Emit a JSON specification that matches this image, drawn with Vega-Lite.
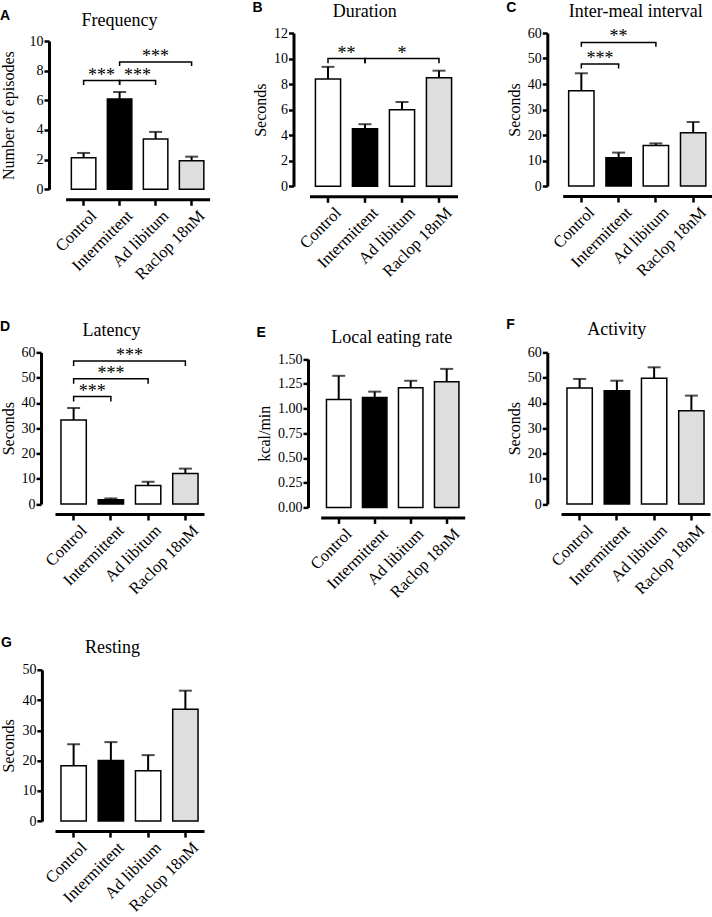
{
  "$schema": "https://vega.github.io/schema/vega-lite/v6.json",
  "description": "Seven bar panels (mean + SEM) comparing Control, Intermittent, Ad libitum and Raclop 18nM",
  "background": "white",
  "padding": {"left": 0, "top": 0, "right": 0, "bottom": 0},
  "datasets": {
    "bars": [
      {"panel": "A", "group": "Control", "mean": 2.13, "upper": 2.45},
      {"panel": "A", "group": "Intermittent", "mean": 6.09, "upper": 6.56},
      {"panel": "A", "group": "Ad libitum", "mean": 3.39, "upper": 3.87},
      {"panel": "A", "group": "Raclop 18nM", "mean": 1.93, "upper": 2.2},
      {"panel": "B", "group": "Control", "mean": 8.4, "upper": 9.35},
      {"panel": "B", "group": "Intermittent", "mean": 4.5, "upper": 4.86},
      {"panel": "B", "group": "Ad libitum", "mean": 6.0, "upper": 6.6},
      {"panel": "B", "group": "Raclop 18nM", "mean": 8.5, "upper": 9.05},
      {"panel": "C", "group": "Control", "mean": 37.4, "upper": 44.2},
      {"panel": "C", "group": "Intermittent", "mean": 11.1, "upper": 13.1},
      {"panel": "C", "group": "Ad libitum", "mean": 15.9, "upper": 16.7},
      {"panel": "C", "group": "Raclop 18nM", "mean": 20.9, "upper": 25.1},
      {"panel": "D", "group": "Control", "mean": 33.2, "upper": 38.0},
      {"panel": "D", "group": "Intermittent", "mean": 1.7, "upper": 2.2},
      {"panel": "D", "group": "Ad libitum", "mean": 7.3, "upper": 8.8},
      {"panel": "D", "group": "Raclop 18nM", "mean": 12.1, "upper": 14.0},
      {"panel": "E", "group": "Control", "mean": 1.09, "upper": 1.33},
      {"panel": "E", "group": "Intermittent", "mean": 1.11, "upper": 1.17},
      {"panel": "E", "group": "Ad libitum", "mean": 1.21, "upper": 1.28},
      {"panel": "E", "group": "Raclop 18nM", "mean": 1.27, "upper": 1.4},
      {"panel": "F", "group": "Control", "mean": 45.9, "upper": 49.5},
      {"panel": "F", "group": "Intermittent", "mean": 44.8, "upper": 48.8},
      {"panel": "F", "group": "Ad libitum", "mean": 49.8, "upper": 54.1},
      {"panel": "F", "group": "Raclop 18nM", "mean": 36.9, "upper": 42.9},
      {"panel": "G", "group": "Control", "mean": 18.3, "upper": 25.4},
      {"panel": "G", "group": "Intermittent", "mean": 20.0, "upper": 26.1},
      {"panel": "G", "group": "Ad libitum", "mean": 16.6, "upper": 21.8},
      {"panel": "G", "group": "Raclop 18nM", "mean": 37.0, "upper": 43.1}
    ],
    "brackets": [
      {"panel": "A", "id": "A1", "cat": "Control", "y": 7.03, "ord": 1},
      {"panel": "A", "id": "A1", "cat": "Control", "y": 7.33, "ord": 2},
      {"panel": "A", "id": "A1", "cat": "Intermittent", "y": 7.33, "ord": 3},
      {"panel": "A", "id": "A1", "cat": "Intermittent", "y": 7.03, "ord": 4},
      {"panel": "A", "id": "A2", "cat": "Intermittent", "y": 7.03, "ord": 1},
      {"panel": "A", "id": "A2", "cat": "Intermittent", "y": 7.33, "ord": 2},
      {"panel": "A", "id": "A2", "cat": "Ad libitum", "y": 7.33, "ord": 3},
      {"panel": "A", "id": "A2", "cat": "Ad libitum", "y": 7.03, "ord": 4},
      {"panel": "A", "id": "A3", "cat": "Intermittent", "y": 8.31, "ord": 1},
      {"panel": "A", "id": "A3", "cat": "Intermittent", "y": 8.58, "ord": 2},
      {"panel": "A", "id": "A3", "cat": "Raclop 18nM", "y": 8.58, "ord": 3},
      {"panel": "A", "id": "A3", "cat": "Raclop 18nM", "y": 8.31, "ord": 4},
      {"panel": "B", "id": "B1", "cat": "Control", "y": 9.64, "ord": 1},
      {"panel": "B", "id": "B1", "cat": "Control", "y": 10.0, "ord": 2},
      {"panel": "B", "id": "B1", "cat": "Intermittent", "y": 10.0, "ord": 3},
      {"panel": "B", "id": "B1", "cat": "Intermittent", "y": 9.64, "ord": 4},
      {"panel": "B", "id": "B2", "cat": "Intermittent", "y": 9.64, "ord": 1},
      {"panel": "B", "id": "B2", "cat": "Intermittent", "y": 10.0, "ord": 2},
      {"panel": "B", "id": "B2", "cat": "Raclop 18nM", "y": 10.0, "ord": 3},
      {"panel": "B", "id": "B2", "cat": "Raclop 18nM", "y": 9.64, "ord": 4},
      {"panel": "C", "id": "C1", "cat": "Control", "y": 46.1, "ord": 1},
      {"panel": "C", "id": "C1", "cat": "Control", "y": 47.8, "ord": 2},
      {"panel": "C", "id": "C1", "cat": "Intermittent", "y": 47.8, "ord": 3},
      {"panel": "C", "id": "C1", "cat": "Intermittent", "y": 46.1, "ord": 4},
      {"panel": "C", "id": "C2", "cat": "Control", "y": 54.6, "ord": 1},
      {"panel": "C", "id": "C2", "cat": "Control", "y": 56.3, "ord": 2},
      {"panel": "C", "id": "C2", "cat": "Ad libitum", "y": 56.3, "ord": 3},
      {"panel": "C", "id": "C2", "cat": "Ad libitum", "y": 54.6, "ord": 4},
      {"panel": "D", "id": "D1", "cat": "Control", "y": 40.6, "ord": 1},
      {"panel": "D", "id": "D1", "cat": "Control", "y": 42.5, "ord": 2},
      {"panel": "D", "id": "D1", "cat": "Intermittent", "y": 42.5, "ord": 3},
      {"panel": "D", "id": "D1", "cat": "Intermittent", "y": 40.6, "ord": 4},
      {"panel": "D", "id": "D2", "cat": "Control", "y": 47.6, "ord": 1},
      {"panel": "D", "id": "D2", "cat": "Control", "y": 49.6, "ord": 2},
      {"panel": "D", "id": "D2", "cat": "Ad libitum", "y": 49.6, "ord": 3},
      {"panel": "D", "id": "D2", "cat": "Ad libitum", "y": 47.6, "ord": 4},
      {"panel": "D", "id": "D3", "cat": "Control", "y": 54.6, "ord": 1},
      {"panel": "D", "id": "D3", "cat": "Control", "y": 56.6, "ord": 2},
      {"panel": "D", "id": "D3", "cat": "Raclop 18nM", "y": 56.6, "ord": 3},
      {"panel": "D", "id": "D3", "cat": "Raclop 18nM", "y": 54.6, "ord": 4}
    ],
    "stars": [
      {"panel": "A", "at": "Control", "between": true, "y": 7.33, "label": "***"},
      {"panel": "A", "at": "Intermittent", "between": true, "y": 7.33, "label": "***"},
      {"panel": "A", "at": "Ad libitum", "between": false, "y": 8.58, "label": "***"},
      {"panel": "B", "at": "Control", "between": true, "y": 10.0, "label": "**"},
      {"panel": "B", "at": "Ad libitum", "between": false, "y": 10.0, "label": "*"},
      {"panel": "C", "at": "Control", "between": true, "y": 47.8, "label": "***"},
      {"panel": "C", "at": "Intermittent", "between": false, "y": 56.3, "label": "**"},
      {"panel": "D", "at": "Control", "between": true, "y": 42.5, "label": "***"},
      {"panel": "D", "at": "Intermittent", "between": false, "y": 49.6, "label": "***"},
      {"panel": "D", "at": "Intermittent", "between": true, "y": 56.6, "label": "***"}
    ]
  },
  "columns": 3,
  "bounds": "flush",
  "spacing": {"row": 162.4, "column": 99.5},
  "concat": [
    {
      "title": {"text": "A"},
      "width": 154.6, "height": 156.3,
      "data": {"name": "bars"},
      "transform": [{"filter": "datum.panel === 'A'"}],
      "resolve": {"axis": {"x": "independent", "y": "independent"}},
      "layer": [
        {"mark": {"type": "bar", "width": {"band": 0.68}, "stroke": "black", "strokeWidth": 1.5},
         "encoding": {
           "x": {"field": "group", "type": "nominal", "scale": {"domain": ["Control", "Intermittent", "Ad libitum", "Raclop 18nM"], "paddingInner": 0, "paddingOuter": 0, "range": [10.6, 154.6]}, "axis": {"title": null}},
           "y": {"field": "mean", "type": "quantitative", "scale": {"domain": [0, 10], "nice": false, "range": [156.3, 8]}, "axis": {"title": "Number of episodes", "values": [0, 2, 4, 6, 8, 10], "offset": 6, "titlePadding": 13}},
           "fill": {"field": "group", "type": "nominal", "scale": {"domain": ["Control", "Intermittent", "Ad libitum", "Raclop 18nM"], "range": ["#ffffff", "#000000", "#ffffff", "#dedede"]}, "legend": null}
         }},
        {"mark": {"type": "rule", "color": "black", "strokeWidth": 2},
         "encoding": {
           "x": {"field": "group", "type": "nominal", "axis": {"orient": "top", "offset": 0, "title": "Frequency", "titleX": 63.9, "titleY": -8, "domain": false, "ticks": false, "labels": false}},
           "y": {"field": "mean", "type": "quantitative", "axis": null},
           "y2": {"field": "upper"}
         }},
        {"mark": {"type": "tick", "color": "black", "size": 13, "thickness": 2},
         "encoding": {"x": {"field": "group", "type": "nominal", "axis": null}, "y": {"field": "upper", "type": "quantitative", "axis": null}}},
        {"data": {"name": "brackets"}, "transform": [{"filter": "datum.panel === 'A'"}],
         "mark": {"type": "line", "color": "black", "strokeWidth": 1.5},
         "encoding": {"x": {"field": "cat", "type": "nominal", "axis": null}, "y": {"field": "y", "type": "quantitative", "axis": null}, "detail": {"field": "id"}, "order": {"field": "ord"}}},
        {"data": {"name": "stars"}, "transform": [{"filter": "datum.panel === 'A' && datum.between"}],
         "mark": {"type": "text", "fontSize": 18, "baseline": "alphabetic", "align": "center"},
         "encoding": {"x": {"field": "at", "type": "nominal", "bandPosition": 1, "axis": null}, "y": {"field": "y", "type": "quantitative", "axis": null}, "text": {"field": "label"}}},
        {"data": {"name": "stars"}, "transform": [{"filter": "datum.panel === 'A' && !datum.between"}],
         "mark": {"type": "text", "fontSize": 18, "baseline": "alphabetic", "align": "center"},
         "encoding": {"x": {"field": "at", "type": "nominal", "axis": null}, "y": {"field": "y", "type": "quantitative", "axis": null}, "text": {"field": "label"}}}
      ]
    },
    {
      "title": {"text": "B"},
      "width": 148, "height": 153.3,
      "data": {"name": "bars"},
      "transform": [{"filter": "datum.panel === 'B'"}],
      "resolve": {"axis": {"x": "independent", "y": "independent"}},
      "layer": [
        {"mark": {"type": "bar", "width": {"band": 0.68}, "stroke": "black", "strokeWidth": 1.5},
         "encoding": {
           "x": {"field": "group", "type": "nominal", "scale": {"domain": ["Control", "Intermittent", "Ad libitum", "Raclop 18nM"], "paddingInner": 0, "paddingOuter": 0}, "axis": {"title": null}},
           "y": {"field": "mean", "type": "quantitative", "scale": {"domain": [0, 12], "nice": false}, "axis": {"title": "Seconds", "values": [0, 2, 4, 6, 8, 10, 12], "offset": 16}},
           "fill": {"field": "group", "type": "nominal", "scale": {"domain": ["Control", "Intermittent", "Ad libitum", "Raclop 18nM"], "range": ["#ffffff", "#000000", "#ffffff", "#dedede"]}, "legend": null}
         }},
        {"mark": {"type": "rule", "color": "black", "strokeWidth": 2},
         "encoding": {
           "x": {"field": "group", "type": "nominal", "axis": {"orient": "top", "offset": 0, "title": "Duration", "titleX": 54.8, "titleY": -16.5, "domain": false, "ticks": false, "labels": false}},
           "y": {"field": "mean", "type": "quantitative", "axis": null},
           "y2": {"field": "upper"}
         }},
        {"mark": {"type": "tick", "color": "black", "size": 13, "thickness": 2},
         "encoding": {"x": {"field": "group", "type": "nominal", "axis": null}, "y": {"field": "upper", "type": "quantitative", "axis": null}}},
        {"data": {"name": "brackets"}, "transform": [{"filter": "datum.panel === 'B'"}],
         "mark": {"type": "line", "color": "black", "strokeWidth": 1.5},
         "encoding": {"x": {"field": "cat", "type": "nominal", "axis": null}, "y": {"field": "y", "type": "quantitative", "axis": null}, "detail": {"field": "id"}, "order": {"field": "ord"}}},
        {"data": {"name": "stars"}, "transform": [{"filter": "datum.panel === 'B' && datum.between"}],
         "mark": {"type": "text", "fontSize": 18, "baseline": "alphabetic", "align": "center"},
         "encoding": {"x": {"field": "at", "type": "nominal", "bandPosition": 1, "axis": null}, "y": {"field": "y", "type": "quantitative", "axis": null}, "text": {"field": "label"}}},
        {"data": {"name": "stars"}, "transform": [{"filter": "datum.panel === 'B' && !datum.between"}],
         "mark": {"type": "text", "fontSize": 18, "baseline": "alphabetic", "align": "center"},
         "encoding": {"x": {"field": "at", "type": "nominal", "axis": null}, "y": {"field": "y", "type": "quantitative", "axis": null}, "text": {"field": "label"}}}
      ]
    },
    {
      "title": {"text": "C"},
      "width": 150.8, "height": 153,
      "data": {"name": "bars"},
      "transform": [{"filter": "datum.panel === 'C'"}],
      "resolve": {"axis": {"x": "independent", "y": "independent"}},
      "layer": [
        {"mark": {"type": "bar", "width": {"band": 0.68}, "stroke": "black", "strokeWidth": 1.5},
         "encoding": {
           "x": {"field": "group", "type": "nominal", "scale": {"domain": ["Control", "Intermittent", "Ad libitum", "Raclop 18nM"], "paddingInner": 0, "paddingOuter": 0, "range": [1.7, 150.8]}, "axis": {"title": null}},
           "y": {"field": "mean", "type": "quantitative", "scale": {"domain": [0, 60], "nice": false}, "axis": {"title": "Seconds", "values": [0, 10, 20, 30, 40, 50, 60], "offset": 13.7}},
           "fill": {"field": "group", "type": "nominal", "scale": {"domain": ["Control", "Intermittent", "Ad libitum", "Raclop 18nM"], "range": ["#ffffff", "#000000", "#ffffff", "#dedede"]}, "legend": null}
         }},
        {"mark": {"type": "rule", "color": "black", "strokeWidth": 2},
         "encoding": {
           "x": {"field": "group", "type": "nominal", "axis": {"orient": "top", "offset": 0, "title": "Inter-meal interval", "titleX": 74.3, "titleY": -16.3, "domain": false, "ticks": false, "labels": false}},
           "y": {"field": "mean", "type": "quantitative", "axis": null},
           "y2": {"field": "upper"}
         }},
        {"mark": {"type": "tick", "color": "black", "size": 13, "thickness": 2},
         "encoding": {"x": {"field": "group", "type": "nominal", "axis": null}, "y": {"field": "upper", "type": "quantitative", "axis": null}}},
        {"data": {"name": "brackets"}, "transform": [{"filter": "datum.panel === 'C'"}],
         "mark": {"type": "line", "color": "black", "strokeWidth": 1.5},
         "encoding": {"x": {"field": "cat", "type": "nominal", "axis": null}, "y": {"field": "y", "type": "quantitative", "axis": null}, "detail": {"field": "id"}, "order": {"field": "ord"}}},
        {"data": {"name": "stars"}, "transform": [{"filter": "datum.panel === 'C' && datum.between"}],
         "mark": {"type": "text", "fontSize": 18, "baseline": "alphabetic", "align": "center"},
         "encoding": {"x": {"field": "at", "type": "nominal", "bandPosition": 1, "axis": null}, "y": {"field": "y", "type": "quantitative", "axis": null}, "text": {"field": "label"}}},
        {"data": {"name": "stars"}, "transform": [{"filter": "datum.panel === 'C' && !datum.between"}],
         "mark": {"type": "text", "fontSize": 18, "baseline": "alphabetic", "align": "center"},
         "encoding": {"x": {"field": "at", "type": "nominal", "axis": null}, "y": {"field": "y", "type": "quantitative", "axis": null}, "text": {"field": "label"}}}
      ]
    },
    {
      "title": {"text": "D"},
      "width": 149, "height": 151.6,
      "data": {"name": "bars"},
      "transform": [{"filter": "datum.panel === 'D'"}],
      "resolve": {"axis": {"x": "independent", "y": "independent"}},
      "layer": [
        {"mark": {"type": "bar", "width": {"band": 0.68}, "stroke": "black", "strokeWidth": 1.5},
         "encoding": {
           "x": {"field": "group", "type": "nominal", "scale": {"domain": ["Control", "Intermittent", "Ad libitum", "Raclop 18nM"], "paddingInner": 0, "paddingOuter": 0}, "axis": {"title": null}},
           "y": {"field": "mean", "type": "quantitative", "scale": {"domain": [0, 60], "nice": false}, "axis": {"title": "Seconds", "values": [0, 10, 20, 30, 40, 50, 60], "offset": 14}},
           "fill": {"field": "group", "type": "nominal", "scale": {"domain": ["Control", "Intermittent", "Ad libitum", "Raclop 18nM"], "range": ["#ffffff", "#000000", "#ffffff", "#dedede"]}, "legend": null}
         }},
        {"mark": {"type": "rule", "color": "black", "strokeWidth": 2},
         "encoding": {
           "x": {"field": "group", "type": "nominal", "axis": {"orient": "top", "offset": 0, "title": "Latency", "titleX": 55.9, "titleY": -16.7, "domain": false, "ticks": false, "labels": false}},
           "y": {"field": "mean", "type": "quantitative", "axis": null},
           "y2": {"field": "upper"}
         }},
        {"mark": {"type": "tick", "color": "black", "size": 13, "thickness": 2},
         "encoding": {"x": {"field": "group", "type": "nominal", "axis": null}, "y": {"field": "upper", "type": "quantitative", "axis": null}}},
        {"data": {"name": "brackets"}, "transform": [{"filter": "datum.panel === 'D'"}],
         "mark": {"type": "line", "color": "black", "strokeWidth": 1.5},
         "encoding": {"x": {"field": "cat", "type": "nominal", "axis": null}, "y": {"field": "y", "type": "quantitative", "axis": null}, "detail": {"field": "id"}, "order": {"field": "ord"}}},
        {"data": {"name": "stars"}, "transform": [{"filter": "datum.panel === 'D' && datum.between"}],
         "mark": {"type": "text", "fontSize": 18, "baseline": "alphabetic", "align": "center"},
         "encoding": {"x": {"field": "at", "type": "nominal", "bandPosition": 1, "axis": null}, "y": {"field": "y", "type": "quantitative", "axis": null}, "text": {"field": "label"}}},
        {"data": {"name": "stars"}, "transform": [{"filter": "datum.panel === 'D' && !datum.between"}],
         "mark": {"type": "text", "fontSize": 18, "baseline": "alphabetic", "align": "center"},
         "encoding": {"x": {"field": "at", "type": "nominal", "axis": null}, "y": {"field": "y", "type": "quantitative", "axis": null}, "text": {"field": "label"}}}
      ]
    },
    {
      "title": {"text": "E"},
      "width": 152, "height": 155,
      "data": {"name": "bars"},
      "transform": [{"filter": "datum.panel === 'E'"}],
      "resolve": {"axis": {"x": "independent", "y": "independent"}},
      "layer": [
        {"mark": {"type": "bar", "width": {"band": 0.68}, "stroke": "black", "strokeWidth": 1.5},
         "encoding": {
           "x": {"field": "group", "type": "nominal", "scale": {"domain": ["Control", "Intermittent", "Ad libitum", "Raclop 18nM"], "paddingInner": 0, "paddingOuter": 0, "range": [11.2, 155.2]}, "axis": {"title": null}},
           "y": {"field": "mean", "type": "quantitative", "scale": {"domain": [0, 1.5], "nice": false, "range": [155, 6.6]}, "axis": {"title": "kcal/min", "values": [0, 0.25, 0.5, 0.75, 1, 1.25, 1.5], "format": ".2f", "offset": 1.5}},
           "fill": {"field": "group", "type": "nominal", "scale": {"domain": ["Control", "Intermittent", "Ad libitum", "Raclop 18nM"], "range": ["#ffffff", "#000000", "#ffffff", "#dedede"]}, "legend": null}
         }},
        {"mark": {"type": "rule", "color": "black", "strokeWidth": 2},
         "encoding": {
           "x": {"field": "group", "type": "nominal", "axis": {"orient": "top", "offset": 0, "title": "Local eating rate", "titleX": 81.8, "titleY": -10, "domain": false, "ticks": false, "labels": false}},
           "y": {"field": "mean", "type": "quantitative", "axis": null},
           "y2": {"field": "upper"}
         }},
        {"mark": {"type": "tick", "color": "black", "size": 13, "thickness": 2},
         "encoding": {"x": {"field": "group", "type": "nominal", "axis": null}, "y": {"field": "upper", "type": "quantitative", "axis": null}}}
      ]
    },
    {
      "title": {"text": "F"},
      "width": 149, "height": 151.6,
      "data": {"name": "bars"},
      "transform": [{"filter": "datum.panel === 'F'"}],
      "resolve": {"axis": {"x": "independent", "y": "independent"}},
      "layer": [
        {"mark": {"type": "bar", "width": {"band": 0.68}, "stroke": "black", "strokeWidth": 1.5},
         "encoding": {
           "x": {"field": "group", "type": "nominal", "scale": {"domain": ["Control", "Intermittent", "Ad libitum", "Raclop 18nM"], "paddingInner": 0, "paddingOuter": 0}, "axis": {"title": null}},
           "y": {"field": "mean", "type": "quantitative", "scale": {"domain": [0, 60], "nice": false}, "axis": {"title": "Seconds", "values": [0, 10, 20, 30, 40, 50, 60], "offset": 13.7}},
           "fill": {"field": "group", "type": "nominal", "scale": {"domain": ["Control", "Intermittent", "Ad libitum", "Raclop 18nM"], "range": ["#ffffff", "#000000", "#ffffff", "#dedede"]}, "legend": null}
         }},
        {"mark": {"type": "rule", "color": "black", "strokeWidth": 2},
         "encoding": {
           "x": {"field": "group", "type": "nominal", "axis": {"orient": "top", "offset": 0, "title": "Activity", "titleX": 55.3, "titleY": -18.4, "domain": false, "ticks": false, "labels": false}},
           "y": {"field": "mean", "type": "quantitative", "axis": null},
           "y2": {"field": "upper"}
         }},
        {"mark": {"type": "tick", "color": "black", "size": 13, "thickness": 2},
         "encoding": {"x": {"field": "group", "type": "nominal", "axis": null}, "y": {"field": "upper", "type": "quantitative", "axis": null}}}
      ]
    },
    {
      "title": {"text": "G"},
      "width": 149, "height": 151.3,
      "data": {"name": "bars"},
      "transform": [{"filter": "datum.panel === 'G'"}],
      "resolve": {"axis": {"x": "independent", "y": "independent"}},
      "layer": [
        {"mark": {"type": "bar", "width": {"band": 0.68}, "stroke": "black", "strokeWidth": 1.5},
         "encoding": {
           "x": {"field": "group", "type": "nominal", "scale": {"domain": ["Control", "Intermittent", "Ad libitum", "Raclop 18nM"], "paddingInner": 0, "paddingOuter": 0}, "axis": {"title": null}},
           "y": {"field": "mean", "type": "quantitative", "scale": {"domain": [0, 50], "nice": false}, "axis": {"title": "Seconds", "values": [0, 10, 20, 30, 40, 50], "offset": 13.1}},
           "fill": {"field": "group", "type": "nominal", "scale": {"domain": ["Control", "Intermittent", "Ad libitum", "Raclop 18nM"], "range": ["#ffffff", "#000000", "#ffffff", "#dedede"]}, "legend": null}
         }},
        {"mark": {"type": "rule", "color": "black", "strokeWidth": 2},
         "encoding": {
           "x": {"field": "group", "type": "nominal", "axis": {"orient": "top", "offset": 0, "title": "Resting", "titleX": 56.9, "titleY": -17.4, "domain": false, "ticks": false, "labels": false}},
           "y": {"field": "mean", "type": "quantitative", "axis": null},
           "y2": {"field": "upper"}
         }},
        {"mark": {"type": "tick", "color": "black", "size": 13, "thickness": 2},
         "encoding": {"x": {"field": "group", "type": "nominal", "axis": null}, "y": {"field": "upper", "type": "quantitative", "axis": null}}}
      ]
    }
  ],
  "config": {
    "view": {"stroke": null},
    "font": "Liberation Serif",
    "text": {"font": "Liberation Serif", "color": "black"},
    "title": {"font": "Liberation Sans", "fontWeight": "bold", "fontSize": 14, "color": "black", "anchor": "start", "frame": "bounds", "offset": -12},
    "axis": {
      "grid": false,
      "domainColor": "black", "domainWidth": 3,
      "tickColor": "black", "tickWidth": 2.5,
      "labelColor": "black", "labelFont": "Liberation Serif",
      "titleColor": "black", "titleFont": "Liberation Serif", "titleFontWeight": "normal"
    },
    "axisY": {"tickSize": 5, "labelPadding": 1, "labelFontSize": 14, "titleFontSize": 16, "titlePadding": 5},
    "axisX": {"tickSize": 6, "offset": 10, "labelAngle": -45, "labelAlign": "right", "labelBaseline": "alphabetic", "labelFontSize": 16.5, "labelPadding": 11, "labelOffset": 14, "titleFontSize": 18, "titleBaseline": "alphabetic", "titleAnchor": "middle", "titleAlign": "center"}
  }
}
